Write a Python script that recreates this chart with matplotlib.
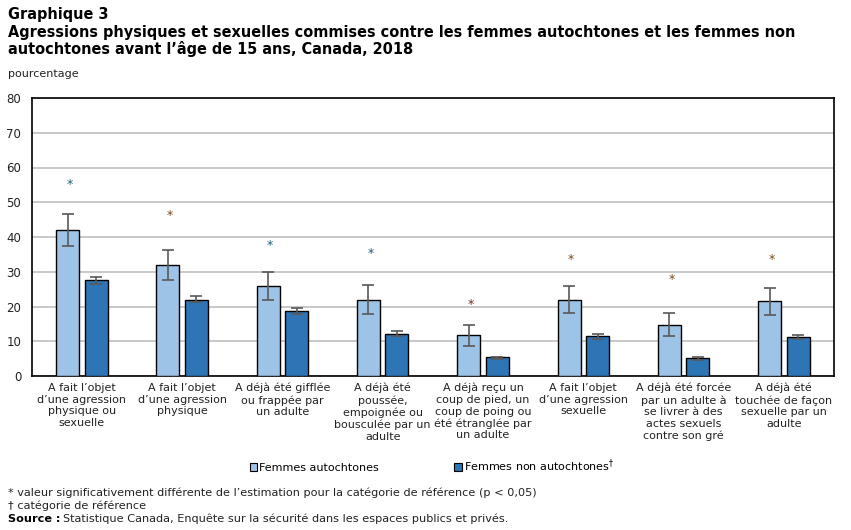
import matplotlib
matplotlib.use("Agg")
import matplotlib.pyplot as plt
from matplotlib.patches import Patch
import numpy as np

categories = [
    "A fait l’objet\nd’une agression\nphysique ou\nsexuelle",
    "A fait l’objet\nd’une agression\nphysique",
    "A déjà été gifflée\nou frappée par\nun adulte",
    "A déjà été\npoussée,\nempoignée ou\nbousculée par un\nadulte",
    "A déjà reçu un\ncoup de pied, un\ncoup de poing ou\nété étranglée par\nun adulte",
    "A fait l’objet\nd’une agression\nsexuelle",
    "A déjà été forcée\npar un adulte à\nse livrer à des\nactes sexuels\ncontre son gré",
    "A déjà été\ntouchée de façon\nsexuelle par un\nadulte",
]
autochtones = [41.9, 31.8, 25.8, 22.0, 11.7, 21.8, 14.6, 21.5]
auto_low = [37.3, 27.5, 21.8, 17.7, 8.6, 18.0, 11.4, 17.5]
auto_high = [46.6, 36.4, 29.8, 26.1, 14.6, 25.8, 18.0, 25.2]
non_autochtones = [27.5, 22.0, 18.6, 12.0, 5.4, 11.4, 5.1, 11.1]
non_low = [26.4, 21.2, 17.7, 11.4, 4.8, 10.7, 4.5, 10.6]
non_high = [28.4, 22.9, 19.5, 12.9, 5.6, 12.0, 5.4, 11.7]
star_y = [55.2, 46.2, 37.6, 35.3, 20.6, 33.6, 27.8, 33.6]
yticks = [0, 10, 20, 30, 40, 50, 60, 70, 80]

light = "#9DC3E6"
dark = "#2E75B6"
errc = "#595959"

plt.rcParams['font.family'] = ['DejaVu Sans']
fig = plt.figure(figsize=(8.51, 5.30), dpi=100)
ax = fig.add_axes([31.7 / 851, 1 - 376 / 530, (834 - 31.7) / 851, (376 - 98) / 530])

x = np.arange(len(categories))
w = 0.23
off = 0.142
a = np.array(autochtones)
n = np.array(non_autochtones)
aerr = [a - np.array(auto_low), np.array(auto_high) - a]
nerr = [n - np.array(non_low), np.array(non_high) - n]

ax.bar(x - off, a, w, color=light, edgecolor="black", linewidth=1.0, zorder=3)
ax.bar(x + off, n, w, color=dark, edgecolor="black", linewidth=1.0, zorder=3)
ax.errorbar(x - off, a, yerr=aerr, fmt="none", ecolor=errc, elinewidth=1.2, capsize=4, capthick=1.2, zorder=4)
ax.errorbar(x + off, n, yerr=nerr, fmt="none", ecolor=errc, elinewidth=1.2, capsize=4, capthick=1.2, zorder=4)

star_colors = ["#1F5F7B", "#7A4A1B", "#1F5F7B", "#1F5F7B", "#7A2A2A", "#7A4A1B", "#7A4A1B", "#7A4A1B"]
for xi, yi, c in zip(x, star_y, star_colors):
    ax.text(xi - off + 0.02, yi, "*", ha="center", va="center", fontsize=9, color=c, zorder=5)

ax.set_xlim(-0.5, len(categories) - 0.5)
ax.set_ylim(0, 80)
ax.set_yticks(yticks)
ax.set_yticklabels([str(t) for t in yticks], fontsize=8.5, color="#222222")
ax.tick_params(axis="y", length=0, pad=7.5)
ax.set_xticks(x)
ax.set_xticklabels(categories, fontsize=8, linespacing=1.2, color="#222222")
ax.tick_params(axis="x", length=0, pad=5)
ax.grid(axis="y", color="#BFBFBF", linewidth=1.2, zorder=0)
ax.set_axisbelow(True)
for s in ax.spines.values():
    s.set_color("black")
    s.set_linewidth(1.2)

fig.text(8 / 851, 1 - 14 / 530, "Graphique 3", fontsize=10.45, fontweight="bold", va="center", ha="left")
fig.text(8 / 851, 1 - 41 / 530,
         "Agressions physiques et sexuelles commises contre les femmes autochtones et les femmes non\nautochtones avant l’âge de 15 ans, Canada, 2018",
         fontsize=10.45, fontweight="bold", va="center", ha="left", linespacing=1.1)
fig.text(8 / 851, 1 - 74 / 530, "pourcentage", fontsize=8, va="center", ha="left", color="#222222")

handles = [Patch(facecolor=light, edgecolor="black", linewidth=0.8),
           Patch(facecolor=dark, edgecolor="black", linewidth=0.8)]
fig.legend(handles, ["Femmes autochtones", "Femmes non autochtones$^{\\dag}$"],
           loc="center", bbox_to_anchor=(432 / 851, 1 - 466 / 530), ncol=2, frameon=False,
           fontsize=8, handlelength=0.65, handleheight=0.65, handletextpad=0.2, columnspacing=6.8)

fn = 8.1
fig.text(8 / 851, 1 - 493 / 530, "* valeur significativement différente de l’estimation pour la catégorie de référence (p < 0,05)",
         fontsize=fn, va="center", ha="left", color="#222222")
fig.text(8 / 851, 1 - 506 / 530, "\u2020 catégorie de référence", fontsize=fn, va="center", ha="left", color="#222222")
t1 = fig.text(8 / 851, 1 - 519 / 530, "Source :", fontsize=fn, fontweight="bold", va="center", ha="left")
fig.canvas.draw()
bb = t1.get_window_extent()
fig.text((bb.x1 + 3) / 851, 1 - 519 / 530, "Statistique Canada, Enquête sur la sécurité dans les espaces publics et privés.",
         fontsize=fn, va="center", ha="left", color="#222222")

fig.savefig("out.png", dpi=100)
